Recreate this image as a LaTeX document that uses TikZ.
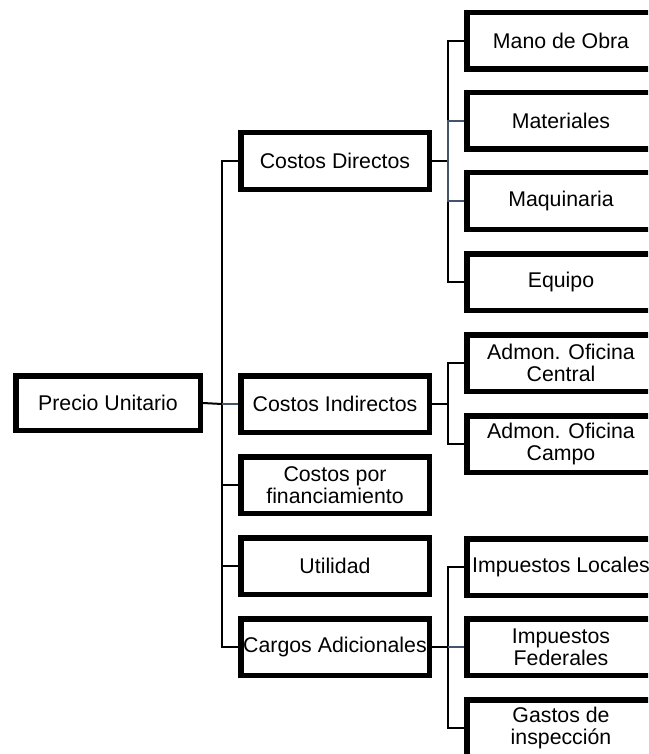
\documentclass[tikz,border=0pt]{standalone}
\usepackage{fontspec}
\setmainfont{Liberation Sans}
\definecolor{slate}{HTML}{44546A}
\begin{document}
\begin{tikzpicture}[x=1pt,y=-1pt,
  box/.style={draw=black,line width=5.5pt,fill=white,inner sep=0pt,
    minimum width=188.5pt,minimum height=56.5pt,align=center,
    font=\fontsize{21.3}{22}\selectfont},
  rootbox/.style={box,minimum width=184.5pt,minimum height=54.5pt},
  link/.style={draw=black,line width=2pt},
  slink/.style={draw=slate,line width=2pt}]
\clip (0,0) rectangle (648,754);
\fill[white] (0,0) rectangle (648,754);

% root
\node[rootbox] (pu) at (108,403) {Precio Unitario};

% second level
\node[box] (cd) at (335,161) {Costos Directos};
\node[box] (ci) at (335,404) {Costos Indirectos};
\node[box] (cf) at (335,485) {Costos por\\financiamiento};
\node[box] (ut) at (335,566) {Utilidad};
\node[box] (ca) at (335,647) {Cargos Adicionales};

% third level: direct costs
\node[box] (mo) at (561,41) {Mano de Obra};
\node[box] (mt) at (561,121) {Materiales};
\node[box] (mq) at (561,201) {Maquinaria};
\node[box] (eq) at (561,282) {Equipo};

% third level: indirect costs
\node[box] (oc) at (561,363) {Admon. Oficina\\Central};
\node[box] (ok) at (561,444) {Admon. Oficina\\Campo};

% third level: additional charges
\node[box] (il) at (561,567) {Impuestos Locales};
\node[box] (if) at (561,647) {Impuestos\\Federales};
\node[box] (gi) at (561,728) {Gastos de\\inspección};

% junction points of the elbow connectors
\coordinate (jr) at (222,404);
\coordinate (jd) at (448,161);
\coordinate (ji) at (448,404);
\coordinate (ja) at (448,647);

% root to second level
\draw[link] (pu.east) -- (jr);
\draw[link] (jr) |- (cd.west);
\draw[link] (jr) |- (cf.west);
\draw[link] (jr) |- (ut.west);
\draw[link] (jr) |- (ca.west);
\draw[slink] (jr) -- (ci.west);

% direct costs
\draw[link] (cd.east) -- (jd);
\draw[link] (jd) |- (mo.west);
\draw[link] (jd) |- (eq.west);
\draw[slink] (jd) |- (mt.west);
\draw[slink] (jd) |- (mq.west);

% indirect costs
\draw[link] (ci.east) -- (ji);
\draw[link] (ji) |- (oc.west);
\draw[link] (ji) |- (ok.west);

% additional charges
\draw[link] (ca.east) -- (ja);
\draw[link] (ja) |- (il.west);
\draw[link] (ja) |- (gi.west);
\draw[slink] (ja) -- (if.west);
\end{tikzpicture}
\end{document}
